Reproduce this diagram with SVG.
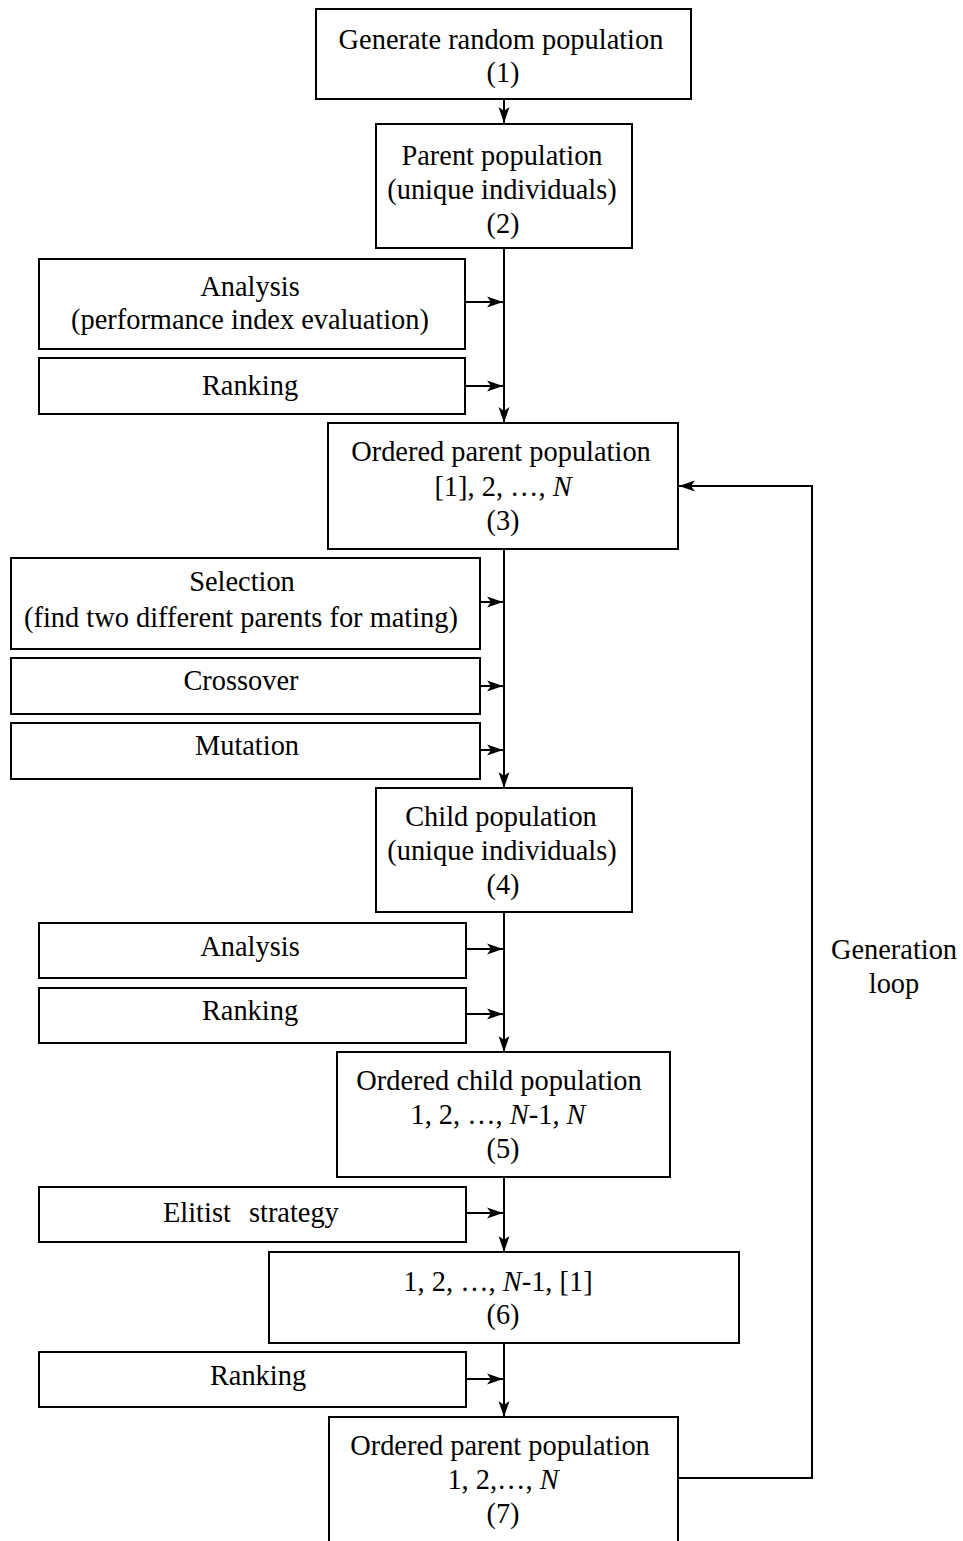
<svg xmlns="http://www.w3.org/2000/svg" width="963" height="1541" viewBox="0 0 963 1541">
<defs>
<marker id="ah" markerUnits="userSpaceOnUse" markerWidth="18" markerHeight="14" viewBox="0 -7 18 14" refX="16" refY="0" orient="auto">
<path d="M0,-5.5 L16,0 L0,5.5 L4,0 z" fill="#000"/>
</marker>
<style>
rect.b{fill:#fff;stroke:#000;stroke-width:2}
text{font-family:"Liberation Serif","Times New Roman",serif;font-size:28.4px;fill:#000;text-anchor:middle}
.i{font-style:italic}
.c line,.c polyline{stroke:#000;stroke-width:2;fill:none}
.a{marker-end:url(#ah)}
</style>
</defs>
<rect width="963" height="1541" fill="#fff"/>

<g id="connectors" class="c">
<line class="a" x1="504" y1="99" x2="504" y2="123"/>
<line class="a" x1="504" y1="248" x2="504" y2="423"/>
<line class="a" x1="465" y1="302" x2="503" y2="302"/>
<line class="a" x1="465" y1="386" x2="503" y2="386"/>
<line class="a" x1="504" y1="549" x2="504" y2="788"/>
<line class="a" x1="480" y1="602" x2="503" y2="602"/>
<line class="a" x1="480" y1="686" x2="503" y2="686"/>
<line class="a" x1="480" y1="750" x2="503" y2="750"/>
<line class="a" x1="504" y1="912" x2="504" y2="1052"/>
<line class="a" x1="466" y1="949" x2="503" y2="949"/>
<line class="a" x1="466" y1="1014" x2="503" y2="1014"/>
<line class="a" x1="504" y1="1177" x2="504" y2="1252"/>
<line class="a" x1="466" y1="1213" x2="503" y2="1213"/>
<line class="a" x1="504" y1="1343" x2="504" y2="1417"/>
<line class="a" x1="466" y1="1379" x2="503" y2="1379"/>
<polyline class="a" points="678,1478 812,1478 812,486 679,486"/>
</g>

<g id="n1"><rect class="b" x="316" y="9" width="375" height="90"/>
<text x="501" y="49">Generate random population</text><text x="503" y="82">(1)</text></g>

<g id="n2"><rect class="b" x="376" y="124" width="256" height="124"/>
<text x="502" y="165">Parent population</text><text x="502" y="199">(unique individuals)</text><text x="503" y="233">(2)</text></g>

<g id="analysis1"><rect class="b" x="39" y="259" width="426" height="90"/>
<text x="250" y="296">Analysis</text><text x="250" y="329">(performance index evaluation)</text></g>

<g id="ranking1"><rect class="b" x="39" y="358" width="426" height="56"/>
<text x="250" y="395">Ranking</text></g>

<g id="n3"><rect class="b" x="328" y="423" width="350" height="126"/>
<text x="501" y="461">Ordered parent population</text>
<text x="503" y="496">[1], 2, …, <tspan class="i">N</tspan></text>
<text x="503" y="530">(3)</text></g>

<g id="selection"><rect class="b" x="11" y="558" width="469" height="91"/>
<text x="242" y="591">Selection</text><text x="241" y="627">(find two different parents for mating)</text></g>

<g id="crossover"><rect class="b" x="11" y="658" width="469" height="56"/>
<text x="241" y="690">Crossover</text></g>

<g id="mutation"><rect class="b" x="11" y="723" width="469" height="56"/>
<text x="247" y="755">Mutation</text></g>

<g id="n4"><rect class="b" x="376" y="788" width="256" height="124"/>
<text x="501" y="826">Child population</text><text x="502" y="860">(unique individuals)</text><text x="503" y="894">(4)</text></g>

<g id="analysis2"><rect class="b" x="39" y="923" width="427" height="55"/>
<text x="250" y="956">Analysis</text></g>

<g id="ranking2"><rect class="b" x="39" y="988" width="427" height="55"/>
<text x="250" y="1020">Ranking</text></g>

<g id="n5"><rect class="b" x="337" y="1052" width="333" height="125"/>
<text x="499" y="1090">Ordered child population</text>
<text x="498" y="1124">1, 2, …, <tspan class="i">N</tspan>-1, <tspan class="i">N</tspan></text>
<text x="503" y="1158">(5)</text></g>

<g id="elitist"><rect class="b" x="39" y="1187" width="427" height="55"/>
<text x="163" y="1222" style="text-anchor:start">Elitist<tspan dx="11"> strategy</tspan></text></g>

<g id="n6"><rect class="b" x="269" y="1252" width="470" height="91"/>
<text x="498" y="1291">1, 2, …, <tspan class="i">N</tspan>-1, [1]</text>
<text x="503" y="1324">(6)</text></g>

<g id="ranking3"><rect class="b" x="39" y="1352" width="427" height="55"/>
<text x="258" y="1385">Ranking</text></g>

<g id="n7"><rect class="b" x="329" y="1417" width="349" height="140"/>
<text x="500" y="1455">Ordered parent population</text>
<text x="503" y="1489">1, 2,…, <tspan class="i">N</tspan></text>
<text x="503" y="1523">(7)</text></g>

<g id="loop-label">
<text x="894" y="959">Generation</text><text x="894" y="993">loop</text></g>
</svg>
